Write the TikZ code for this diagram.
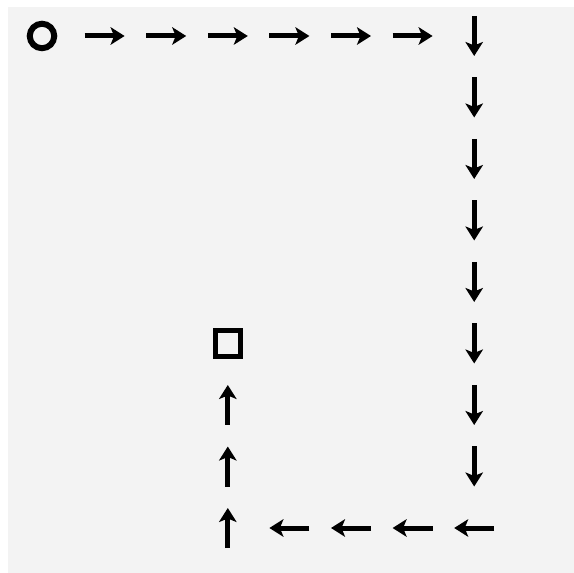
\documentclass[tikz,border=0pt]{standalone}
\usetikzlibrary{arrows.meta}
\definecolor{bggray}{HTML}{F3F3F3}
\tikzset{
  startcircle/.style={circle,draw,line width=1.2mm,minimum size=4.9mm,inner sep=0pt},
  goalbox/.style={rectangle,draw,line width=1mm,minimum size=5.1mm,inner sep=0pt},
  mv/.style={line width=1mm,-{Stealth[length=2.8mm,width=3.5mm,inset=0.7mm]}}
}

\begin{document}
\begin{tikzpicture}[x=0.02cm,y=-0.02cm]
\useasboundingbox (0,0) rectangle (574,573);
\fill[bggray] (8,7) rectangle (574,573);

% grid of cells
\foreach \c in {0,...,7}
  \foreach \r in {0,...,8}
    \coordinate (g\c-\r) at ({43+61.6*\c},{36+61.5*\r});

\node[startcircle] (start) at ([shift={(-1,0)}]g0-0) {};
\node[goalbox] (goal) at (g3-5) {};

% top row
\foreach \c in {1,...,6}
  \draw[mv] ([shift={(-20,0)}]g\c-0) -- ([shift={(20,0)}]g\c-0);
% right column
\foreach \r in {0,...,7}
  \draw[mv] ([shift={(0,-20)}]g7-\r) -- ([shift={(0,20)}]g7-\r);
% bottom row
\foreach \c in {4,...,7}
  \draw[mv] ([shift={(20,0)}]g\c-8) -- ([shift={(-20,0)}]g\c-8);
% back up to the goal
\foreach \r in {6,7,8}
  \draw[mv] ([shift={(0,20)}]g3-\r) -- ([shift={(0,-20)}]g3-\r);
\end{tikzpicture}
\end{document}
